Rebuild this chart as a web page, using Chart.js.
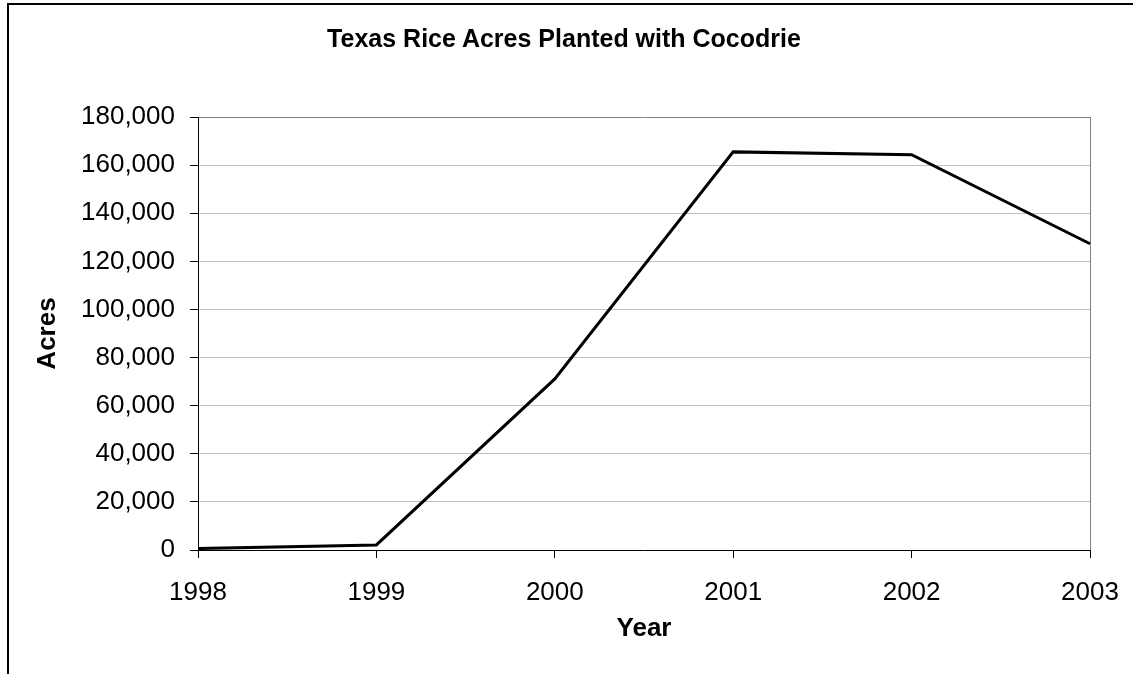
<!DOCTYPE html>
<html>
<head>
<meta charset="utf-8">
<script src="https://cdn.jsdelivr.net/npm/chart.js@4.4.0/dist/chart.umd.min.js"></script>
<style>
    html, body { margin: 0; padding: 0; background: #fff; }
    #wrap { position: relative; width: 1133px; height: 674px; overflow: hidden; }
    #frame {
        position: absolute; left: 7px; top: 3px; width: 1200px; height: 800px;
        border-left: 2px solid #000; border-top: 2px solid #000;
        pointer-events: none;
    }
    #chartTitle {
        position: absolute; left: 64px; width: 1000px; top: 24px;
        text-align: center; line-height: 30px;
        font: bold 25px 'Liberation Sans', Arial, sans-serif; color: #000;
    }
</style>
</head>
<body>
<div id="wrap">
    <canvas id="riceChart" width="1133" height="674"></canvas>
    <div id="chartTitle">Texas Rice Acres Planted with Cocodrie</div>
    <div id="frame"></div>
</div>
<script>
    // Data
    const years = ['1998', '1999', '2000', '2001', '2002', '2003'];
    const acresPlanted = [600, 2100, 71100, 165500, 164300, 127300];
    const yTicks = [0, 20000, 40000, 60000, 80000, 100000, 120000, 140000, 160000, 180000];

    const FONT = "'Liberation Sans', Arial, sans-serif";

    const ctx = document.getElementById('riceChart').getContext('2d');
    const riceChart = new Chart(ctx, {
        type: 'line',
        data: {
            labels: years,
            datasets: [{
                label: 'Acres',
                data: acresPlanted,
                borderColor: '#000',
                borderWidth: 3,
                pointRadius: 0,
                tension: 0,
                fill: false
            }]
        },
        options: {
            responsive: false,
            animation: false,
            layout: { padding: { top: 117, left: 0, right: 43, bottom: 0 } },
            plugins: {
                legend: { display: false },
                tooltip: { enabled: false },
                title: { display: false }
            },
            scales: {
                x: {
                    offset: false,
                    afterFit: function(scale) {
                        scale.height = 124;
                        // keep the plot edge fixed, the 2003 label may overhang
                        scale.paddingRight = 0;
                        scale.paddingLeft = 0;
                    },
                    grid: {
                        drawTicks: true,
                        tickLength: 8,
                        color: function(c) { return c.index === years.length - 1 ? '#808080' : 'rgba(0,0,0,0)'; },
                        tickColor: '#000'
                    },
                    border: { display: true, color: '#000', width: 1 },
                    ticks: {
                        color: '#000',
                        padding: 19,
                        maxRotation: 0,
                        font: { family: FONT, size: 26 }
                    },
                    title: {
                        display: true,
                        text: 'Year',
                        color: '#000',
                        font: { family: FONT, size: 26, weight: 'bold', lineHeight: 1.2 },
                        padding: { top: 0, bottom: 30 }
                    }
                },
                y: {
                    min: 0,
                    max: 180000,
                    afterFit: function(scale) { scale.width = 198; },
                    afterBuildTicks: function(scale) {
                        scale.ticks = yTicks.map(function(v) { return { value: v }; });
                    },
                    grid: {
                        drawTicks: true,
                        tickLength: 8,
                        color: function(c) { return c.tick && c.tick.value === 180000 ? '#808080' : '#c0c0c0'; },
                        tickColor: '#000'
                    },
                    border: { display: true, color: '#000', width: 1 },
                    ticks: {
                        color: '#000',
                        padding: 15,
                        font: { family: FONT, size: 26 },
                        callback: function(value) { return value.toLocaleString('en-US'); }
                    },
                    title: {
                        display: true,
                        text: 'Acres',
                        color: '#000',
                        font: { family: FONT, size: 26, weight: 'bold', lineHeight: 1.2 },
                        padding: { top: 32, bottom: 0 }
                    }
                }
            }
        }
    });
</script>
</body>
</html>
